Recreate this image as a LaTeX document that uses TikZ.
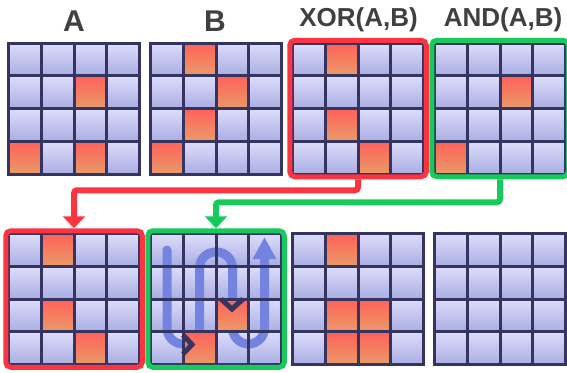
\documentclass[tikz,border=0pt]{standalone}
\usepackage{fontspec}
\setmainfont{Liberation Sans}
\usetikzlibrary{arrows.meta}
\definecolor{CellTop}{HTML}{DDDDFB}
\definecolor{CellBottom}{HTML}{A9AEE2}
\definecolor{HotTop}{HTML}{FF6159}
\definecolor{HotBottom}{HTML}{E99A69}
\definecolor{GridDark}{HTML}{35335F}
\definecolor{MarkRed}{HTML}{FC3441}
\definecolor{MarkGreen}{HTML}{16CB5B}
\definecolor{ScanBlue}{HTML}{7384E0}
\definecolor{LabelGray}{HTML}{404040}

\begin{document}
\begin{tikzpicture}[
    x=1pt, y=-1pt,
    cellbox/.style={top color=CellTop, middle color=CellTop, bottom color=CellBottom},
    hotbox/.style={top color=HotTop, middle color=HotTop, bottom color=HotBottom},
    gridline/.style={GridDark, line width=3pt},
    framebox/.style={draw, line width=5pt, rounded corners=5pt, minimum width=136.5pt, minimum height=136.5pt, inner sep=0pt},
    link/.style={line width=6pt, rounded corners=3pt, -{Triangle[width=22pt,length=12pt]}},
    biglbl/.style={text=LabelGray, font=\bfseries\fontsize{30}{36}\selectfont, anchor=base},
    lbl/.style={text=LabelGray, font=\bfseries\fontsize{26}{31}\selectfont, anchor=base}
 ]
\useasboundingbox (0,0) rectangle (567,372);
\def\cs{32.75}
\def\gs{131}
\def\topY{43}
\def\botY{233.5}

    % plain cells
    \foreach \gx/\gy in {8.5/\topY,150.5/\topY,292.5/\topY,434.5/\topY,8.5/\botY,150.5/\botY,292.5/\botY,434.5/\botY} {
        \foreach \r in {0,...,3} {
            \foreach \c in {0,...,3} {
                \path[cellbox] (\gx+\c*\cs,\gy+\r*\cs) rectangle ++(\cs,\cs);
            }
        }
    }

    % scan order
    \draw[ScanBlue, line width=9pt, rounded corners=16pt, line cap=round, -{Triangle[width=22pt,length=22pt]}]
        (167,250) -- (167,344) -- (199.5,344) -- (199.5,252) -- (232.5,252) -- (232.5,344) -- (264.5,344) -- (264.5,237);

    % set cells
    \foreach \gx/\gy/\hot in {8.5/\topY/{2/3,4/1,4/3},150.5/\topY/{1/2,2/3,3/2,4/1},292.5/\topY/{1/2,3/2,4/3},434.5/\topY/{2/3,4/1},8.5/\botY/{1/2,3/2,4/3},150.5/\botY/{3/3,4/2},292.5/\botY/{1/2,3/2,3/3,4/2,4/3}} {
        \foreach \r/\c in \hot {
            \path[hotbox] (\gx+\c*\cs-\cs,\gy+\r*\cs-\cs) rectangle ++(\cs,\cs);
        }
    }

    \foreach \gx/\gy in {8.5/\topY,150.5/\topY,292.5/\topY,434.5/\topY,8.5/\botY,150.5/\botY,292.5/\botY,434.5/\botY} {
        \foreach \k in {1,2,3} {
            \draw[gridline] (\gx+\k*\cs,\gy) -- ++(0,\gs);
            \draw[gridline] (\gx,\gy+\k*\cs) -- ++(\gs,0);
        }
        \draw[gridline] (\gx,\gy) rectangle ++(\gs,\gs);
    }

\draw[GridDark, line width=5pt] (183,335) -- (192,344.5) -- (183,354);
\draw[GridDark, line width=5pt] (221,299) -- (232,309) -- (243,299);

\node[framebox, MarkRed] (xorbox) at (358,108.5) {};
\node[framebox, MarkGreen] (andbox) at (500,108.5) {};
\node[framebox, MarkRed] (xorcopy) at (74,299) {};
\node[framebox, MarkGreen] (andscan) at (216,299) {};

\draw[link, MarkRed] (xorbox.south) -- ++(0,11) -| (xorcopy.north);
\draw[link, MarkGreen] (andbox.south) -- ++(0,23) -| (andscan.north);

\node[biglbl] (labA) at (74,31.7) {A};
\node[biglbl] (labB) at (215,31.7) {B};
\node[lbl] (labXor) at (358.5,27) {XOR(A,B)};
\node[lbl] (labAnd) at (503,27) {AND(A,B)};

\end{tikzpicture}
\end{document}
